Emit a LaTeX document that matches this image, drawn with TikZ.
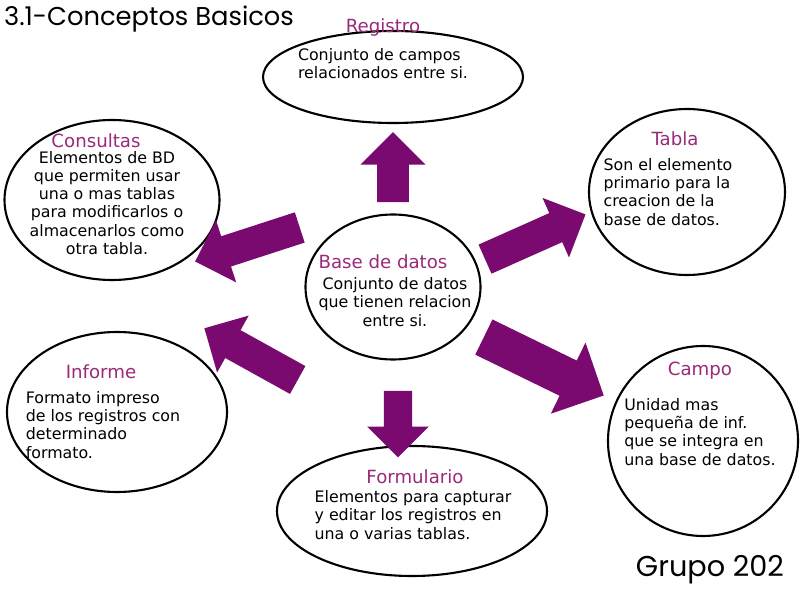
\documentclass[tikz,border=0pt]{standalone}
\usepackage{fontspec}
\setmainfont{DejaVu Sans}
\newfontfamily\titlefont{Poppins}
\usetikzlibrary{shapes.arrows,shapes.geometric,calc}
\definecolor{plum}{HTML}{9A2A7A}
\definecolor{arr}{HTML}{7A0A70}
\tikzset{
  ell/.style={draw,line width=1.8pt,ellipse},
  ttl/.style={text=plum,font=\fontsize{15.5}{18}\selectfont},
  body/.style={font=\fontsize{13.5}{15.5}\selectfont,align=center},
  barrow/.style={single arrow,fill=arr,draw=none,inner sep=0.47cm,single arrow head extend=0.5cm,single arrow head indent=0pt,font=\tiny,anchor=center}
}
\begin{document}
\begin{tikzpicture}[x=0.03cm,y=-0.03cm]
\useasboundingbox (0,0) rectangle (800,600);
\fill[white] (0,0) rectangle (800,600);
% ellipses
\node[ell,minimum width=7.8cm,minimum height=2.76cm] (reg) at (393,77) {};
\node[ell,minimum width=5.88cm,minimum height=4.98cm] (tab) at (687,192) {};
\node[ell,minimum width=6.45cm,minimum height=4.8cm] (con) at (112,200) {};
\node[ell,minimum width=6.6cm,minimum height=4.8cm] (inf) at (117,412) {};
\node[ell,minimum width=5.7cm,minimum height=5.7cm] (cam) at (703,441) {};
\node[ell,minimum width=8.1cm,minimum height=3.9cm] (for) at (412,511) {};
\node[ell,minimum width=5.25cm,minimum height=4.35cm] (bd) at (393,287) {};
% texts
\node[ttl] (regt) at (383,27) {Registro};
\node[body,align=left] (regb) at (383,64) {Conjunto de campos\\relacionados entre si.};
\node[ttl] (tabt) at (675,139) {Tabla};
\node[body,align=left] (tabb) at (668,192) {Son el elemento\\primario para la\\creacion de la\\base de datos.};
\node[ttl] (cont) at (96,141) {Consultas};
\node[body] (conb) at (107,203) {Elementos de BD\\que permiten usar\\una o mas tablas\\para modificarlos o\\almacenarlos como\\otra tabla.};
\node[ttl] (inft) at (101,372) {Informe};
\node[body,align=left] (infb) at (103,425) {Formato impreso\\de los registros con\\determinado\\formato.};
\node[ttl] (camt) at (700,371) {Campo};
\node[body,align=left] (camb) at (700,432) {Unidad mas\\pequeña de inf.\\que se integra en\\una base de datos.};
\node[ttl] (fort) at (415,477) {Formulario};
\node[body,align=left] (forb) at (413,515) {Elementos para capturar\\y editar los registros en\\una o varias tablas.};
\node[ttl] (bdt) at (383,262) {Base de datos};
\node[body] (bdb) at (395,302) {Conjunto de datos\\que tienen relacion\\entre si.};
% arrows
\node[barrow,minimum height=2.1cm,rotate=90] (a1) at (393,175) {};
\node[barrow,minimum height=3.3cm,rotate=24] (a2) at (528,240) {};
\node[barrow,minimum height=3.3cm,rotate=198] (a3) at (255,242) {};
\node[barrow,minimum height=3.2cm,rotate=151] (a4) at (258,358) {};
\node[barrow,minimum height=4.0cm,rotate=-26,inner sep=0.58cm,single arrow head extend=0.6cm] (a5) at (535,362) {};
\node[barrow,minimum height=2.0cm,rotate=-90,inner sep=0.42cm] (a6) at (398,417) {};
% title and signature
\node[anchor=west,font=\titlefont\fontsize{22}{24}\selectfont] (title) at (0,19) {3.1-Conceptos Basicos};
\node[anchor=east,font=\titlefont\fontsize{24.5}{26}\selectfont] (grp) at (788,570) {Grupo 202};
\end{tikzpicture}
\end{document}
